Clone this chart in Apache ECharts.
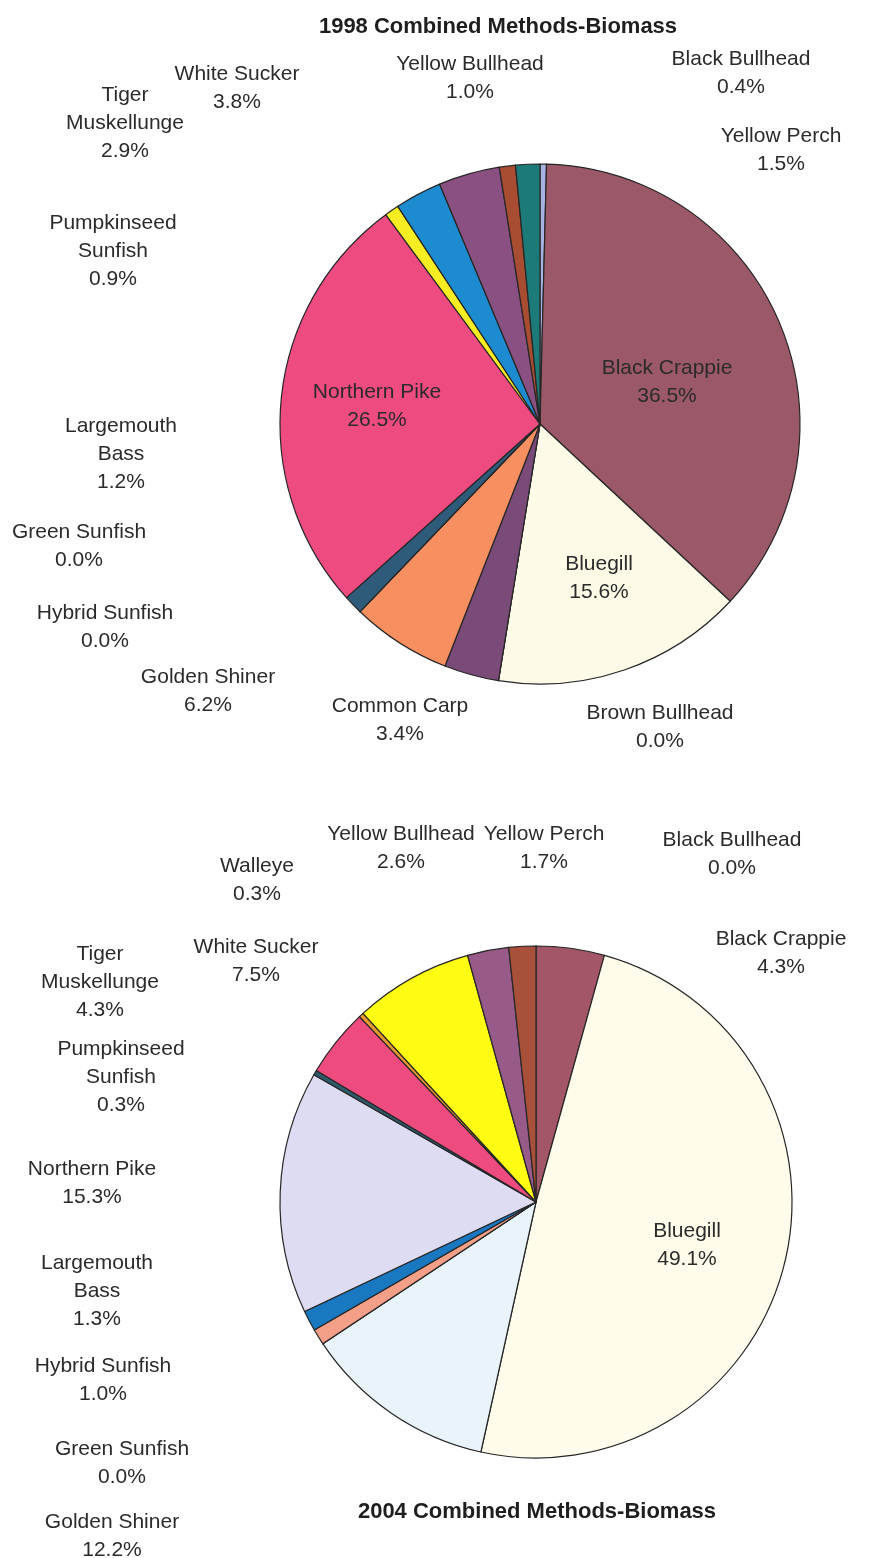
<!DOCTYPE html>
<html>
<head>
<meta charset="utf-8">
<script src="https://cdn.jsdelivr.net/npm/echarts@6/dist/echarts.min.js"></script>
<style>
  html, body { margin: 0; padding: 0; background: #fff; }
  #chart { width: 879px; height: 1558px; }
</style>
</head>
<body>
<div id="chart"></div>
<script>
// percent of total biomass, clockwise from 12 o'clock
const species1998 = ['Black Bullhead', 'Black Crappie', 'Bluegill', 'Brown Bullhead', 'Common Carp',
  'Golden Shiner', 'Green Sunfish', 'Hybrid Sunfish', 'Largemouth Bass', 'Northern Pike',
  'Pumpkinseed Sunfish', 'Tiger Muskellunge', 'White Sucker', 'Yellow Bullhead', 'Yellow Perch'];
const biomass1998 = [0.4, 36.5, 15.6, 0.0, 3.4, 6.2, 0.0, 0.0, 1.2, 26.5, 0.9, 2.9, 3.8, 1.0, 1.5];

const species2004 = ['Black Bullhead', 'Black Crappie', 'Bluegill', 'Golden Shiner', 'Green Sunfish',
  'Hybrid Sunfish', 'Largemouth Bass', 'Northern Pike', 'Pumpkinseed Sunfish', 'Tiger Muskellunge',
  'Walleye', 'White Sucker', 'Yellow Bullhead', 'Yellow Perch'];
const biomass2004 = [0.0, 4.3, 49.1, 12.2, 0.0, 1.0, 1.3, 15.3, 0.3, 4.3, 0.3, 7.5, 2.6, 1.7];

const titles = ['1998 Combined Methods-Biomass', '2004 Combined Methods-Biomass'];

// slice colours (faded Excel palette as printed)
const colors1998 = ['#a9b2e0', '#9b5868', '#fdfbe8', '#e6f5fa', '#7a4a78', '#f78f60', '#1a78c0',
  '#dcdcf4', '#2f5b7a', '#ee4b80', '#f6ee22', '#1d8bd0', '#8a5082', '#a84c32', '#1c7a78'];
const colors2004 = ['#a9b2e0', '#a35668', '#fffcec', '#e9f4fa', '#6a3a6a', '#f4a088', '#1a78c0',
  '#dddcf2', '#2e5a6a', '#ee4b7e', '#e89a30', '#fffc14', '#985a88', '#a8503a'];

// where each label sits: [centre x, first line y]
const labelPos1998 = {
  'Black Bullhead': [741, 59], 'Black Crappie': [667, 368], 'Bluegill': [599, 564],
  'Brown Bullhead': [660, 713], 'Common Carp': [400, 706], 'Golden Shiner': [208, 677],
  'Green Sunfish': [79, 532], 'Hybrid Sunfish': [105, 613], 'Largemouth Bass': [121, 426],
  'Northern Pike': [377, 392], 'Pumpkinseed Sunfish': [113, 223], 'Tiger Muskellunge': [125, 95],
  'White Sucker': [237, 74], 'Yellow Bullhead': [470, 64], 'Yellow Perch': [781, 136]
};
const labelPos2004 = {
  'Black Bullhead': [732, 840], 'Black Crappie': [781, 939], 'Bluegill': [687, 1231],
  'Golden Shiner': [112, 1522], 'Green Sunfish': [122, 1449], 'Hybrid Sunfish': [103, 1366],
  'Largemouth Bass': [97, 1263], 'Northern Pike': [92, 1169], 'Pumpkinseed Sunfish': [121, 1049],
  'Tiger Muskellunge': [100, 954], 'Walleye': [257, 866], 'White Sucker': [256, 947],
  'Yellow Bullhead': [401, 834], 'Yellow Perch': [544, 834]
};

const wrapped = {
  'Tiger Muskellunge': 'Tiger\nMuskellunge',
  'Pumpkinseed Sunfish': 'Pumpkinseed\nSunfish',
  'Largemouth Bass': 'Largemouth\nBass'
};

const LINE_H = 28;

function pieSeries(names, values, colors, pos, center, radius) {
  return {
    type: 'pie',
    center: center,
    radius: radius,
    startAngle: 90,
    clockwise: true,
    avoidLabelOverlap: false,
    minShowLabelAngle: 0,
    data: names.map((n, i) => ({ name: n, value: values[i], itemStyle: { color: colors[i] } })),
    itemStyle: { borderColor: '#262626', borderWidth: 1.2 },
    label: {
      show: true,
      position: 'inside',
      fontFamily: 'Liberation Sans',
      fontSize: 21,
      lineHeight: LINE_H,
      color: '#2b2b2b',
      formatter: p => (wrapped[p.name] || p.name) + '\n' + p.value.toFixed(1) + '%'
    },
    labelLine: { show: false },
    labelLayout: function (params) {
      const p = pos[names[params.dataIndex]];
      return { x: p[0], y: p[1] - LINE_H / 2, align: 'center', verticalAlign: 'top' };
    },
    emphasis: { disabled: true }
  };
}

const chart = echarts.init(document.getElementById('chart'), null, { renderer: 'canvas' });
chart.setOption({
  backgroundColor: '#fff',
  animation: false,
  graphic: [
    { type: 'text', x: 498, y: 27, style: { text: titles[0], font: 'bold 22px "Liberation Sans"', fill: '#1e1e1e', align: 'center', verticalAlign: 'middle' } },
    { type: 'text', x: 537, y: 1512, style: { text: titles[1], font: 'bold 22px "Liberation Sans"', fill: '#1e1e1e', align: 'center', verticalAlign: 'middle' } }
  ],
  series: [
    pieSeries(species1998, biomass1998, colors1998, labelPos1998, [540, 424], 260),
    pieSeries(species2004, biomass2004, colors2004, labelPos2004, [536, 1202], 256)
  ]
});
</script>
</body>
</html>
